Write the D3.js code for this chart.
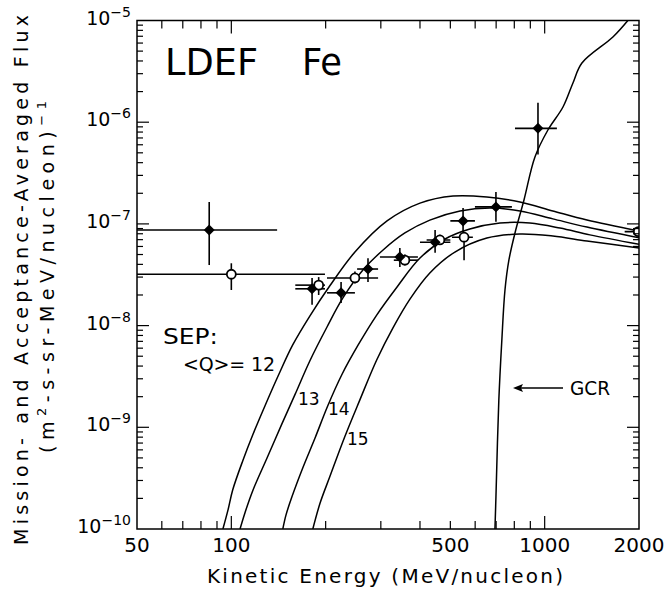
<!DOCTYPE html>
<html>
<head>
<meta charset="utf-8">
<script src="https://cdn.jsdelivr.net/npm/d3@7"></script>
<style>
body { margin: 0; background: #fff; }
svg text { font-family: "DejaVu Sans", sans-serif; fill: #000; }
</style>
</head>
<body>
<script>

// SEP model curves, [energy MeV/nucleon, flux]
var sepQ12 = [[94,1e-10],[97.6,1.54e-10],[101,2.42e-10],[109,4.77e-10],[117,8.4e-10],[128,1.62e-9],[141,3.19e-9],[157,6.45e-9],[178,1.24e-8],[206,2.45e-8],[248,5.29e-8],[314,1.07e-7],[400,1.6e-7],[510,1.88e-7],[654,1.84e-7],[834,1.64e-7],[1062,1.34e-7],[1364,1.09e-7],[2000,8.5e-8]];
var sepQ13 = [[106.6,1e-10],[110.5,1.44e-10],[117.3,2.42e-10],[130,4.99e-10],[145,1.08e-9],[160,2.13e-9],[178,4.49e-9],[202,9.69e-9],[227,1.87e-8],[263,3.52e-8],[305,5.54e-8],[358,8.14e-8],[430,1.09e-7],[537,1.34e-7],[669,1.43e-7],[834,1.34e-7],[1062,1.12e-7],[1364,9.3e-8],[2000,7.3e-8]];
var sepQ14 = [[146,1e-10],[149.4,1.37e-10],[156,2.06e-10],[169,3.98e-10],[185,7.85e-10],[203,1.62e-9],[225,3.27e-9],[254,6.45e-9],[291,1.27e-8],[338,2.4e-8],[400,4.62e-8],[481,7.1e-8],[577,8.9e-8],[720,1.02e-7],[897,1.02e-7],[1119,9.1e-8],[1394,7.8e-8],[2000,6.3e-8]];
var sepQ15 = [[182,1e-10],[192,1.8e-10],[206,3.24e-10],[230,8.03e-10],[257,1.85e-9],[291,4.59e-9],[328,9.5e-9],[372,1.83e-8],[430,3.29e-8],[517,5.29e-8],[654,7.26e-8],[834,7.96e-8],[1062,7.6e-8],[1364,6.79e-8],[2000,5.79e-8]];
var sepCurves = [sepQ12, sepQ13, sepQ14, sepQ15];

// galactic cosmic ray curve
var gcrCurve = [[694,1e-10],[699,2.06e-10],[714,1.85e-9],[730,7.22e-9],[747,2.24e-8],[769,4.42e-8],[804,8.14e-8],[859,1.72e-7],[931,4.55e-7],[1024,8.38e-7],[1144,1.41e-6],[1231,2.43e-6],[1315,3.82e-6],[1651,6.88e-6],[1843,1e-5]];

// LDEF points: [E, flux, Elow, Ehigh, fluxLow, fluxHigh]
var filledPts = [
    [85, 8.7e-8, 50, 140, 3.94e-8, 1.64e-7],
    [181, 2.3e-8, 160, 199, 1.6e-8, 2.94e-8],
    [224, 2.1e-8, 202, 248, 1.67e-8, 2.69e-8],
    [273, 3.6e-8, 252, 294, 2.69e-8, 4.6e-8],
    [345, 4.73e-8, 298, 394, 3.77e-8, 5.8e-8],
    [447, 6.6e-8, 400, 500, 5.2e-8, 8.7e-8],
    [549, 1.07e-7, 500, 599, 8.3e-8, 1.43e-7],
    [699, 1.47e-7, 599, 786, 1.05e-7, 2.06e-7],
    [952, 8.7e-7, 804, 1094, 4.8e-7, 1.55e-6]
];
var openPts = [
    [100, 3.2e-8, 50, 199, 2.24e-8, 4.1e-8],
    [190, 2.5e-8, 160, 199, 2.0e-8, 3.0e-8],
    [248, 2.94e-8, 202, 294, 2.6e-8, 3.4e-8],
    [358, 4.4e-8, 330, 394, 3.9e-8, 5.0e-8],
    [463, 6.95e-8, 420, 500, 6.2e-8, 7.8e-8],
    [553, 7.4e-8, 506, 590, 4.4e-8, 8.3e-8],
    [1990, 8.4e-8, 1800, 2000, 8.0e-8, 8.8e-8]
];

var xTickLabels = [50, 100, 500, 1000, 2000];
var yTickExps = [-10, -9, -8, -7, -6, -5];

var W = 669, H = 591;
var plotLeft = 137, plotRight = 639, plotTop = 20.5, plotBottom = 529;

var x = d3.scaleLog().domain([50, 2000]).range([plotLeft, plotRight]);
var y = d3.scaleLog().domain([1e-10, 1e-5]).range([plotBottom, plotTop]);

var svg = d3.select("body").append("svg")
    .attr("width", W)
    .attr("height", H);

svg.append("clipPath").attr("id", "plotclip")
    .append("rect")
    .attr("x", plotLeft).attr("y", plotTop)
    .attr("width", plotRight - plotLeft).attr("height", plotBottom - plotTop);

var plot = svg.append("g").attr("clip-path", "url(#plotclip)");

var line = d3.line()
    .x(function(d){ return x(d[0]); })
    .y(function(d){ return y(d[1]); })
    .curve(d3.curveCatmullRom.alpha(0.5));

sepCurves.forEach(function(c){
    plot.append("path")
        .attr("d", line(c))
        .attr("fill", "none")
        .attr("stroke", "#000")
        .attr("stroke-width", 1.5);
});

plot.append("path")
    .attr("d", line(gcrCurve))
    .attr("fill", "none")
    .attr("stroke", "#000")
    .attr("stroke-width", 1.5);

// error bars
function errorBars(pts){
    pts.forEach(function(p){
        plot.append("line")
            .attr("x1", x(p[2])).attr("x2", x(p[3]))
            .attr("y1", y(p[1])).attr("y2", y(p[1]))
            .attr("stroke", "#000").attr("stroke-width", 1.6);
        plot.append("line")
            .attr("x1", x(p[0])).attr("x2", x(p[0]))
            .attr("y1", y(p[4])).attr("y2", y(p[5]))
            .attr("stroke", "#000").attr("stroke-width", 1.6);
    });
}
errorBars(openPts);
errorBars(filledPts);

plot.selectAll("circle.open").data(openPts).enter()
    .append("circle")
    .attr("class", "open")
    .attr("cx", function(d){ return x(d[0]); })
    .attr("cy", function(d){ return y(d[1]); })
    .attr("r", 4.5)
    .attr("fill", "#fff")
    .attr("stroke", "#000")
    .attr("stroke-width", 1.8);

var diamond = d3.symbol().type(d3.symbolSquare).size(60);
plot.selectAll("path.filled").data(filledPts).enter()
    .append("path")
    .attr("class", "filled")
    .attr("d", diamond)
    .attr("transform", function(d){ return "translate(" + x(d[0]) + "," + y(d[1]) + ") rotate(45)"; })
    .attr("fill", "#000");

// frame
svg.append("rect")
    .attr("x", plotLeft).attr("y", plotTop)
    .attr("width", plotRight - plotLeft).attr("height", plotBottom - plotTop)
    .attr("fill", "none")
    .attr("stroke", "#000")
    .attr("stroke-width", 1.5);

// ticks
var ticks = svg.append("g").attr("stroke", "#000").attr("stroke-width", 1.2);
var xTicks = [];
[10, 100, 1000].forEach(function(dec){
    for (var k = 1; k <= 9; k++){
        var v = k * dec;
        if (v > 50 && v < 2000) xTicks.push(v);
    }
});
xTicks.forEach(function(v){
    var major = (v === 100 || v === 1000);
    var len = major ? 13 : 8;
    ticks.append("line").attr("x1", x(v)).attr("x2", x(v)).attr("y1", plotBottom).attr("y2", plotBottom - len);
    ticks.append("line").attr("x1", x(v)).attr("x2", x(v)).attr("y1", plotTop).attr("y2", plotTop + len);
});
var yTicks = [];
for (var e = -10; e < -5; e++){
    for (var k = 1; k <= 9; k++){
        var v = k * Math.pow(10, e);
        if (k > 1 || e > -10) yTicks.push({v: v, major: k === 1});
    }
}
yTicks.forEach(function(t){
    var len = t.major ? 12 : 6;
    ticks.append("line").attr("x1", plotLeft).attr("x2", plotLeft + len).attr("y1", y(t.v)).attr("y2", y(t.v));
    ticks.append("line").attr("x1", plotRight).attr("x2", plotRight - len).attr("y1", y(t.v)).attr("y2", y(t.v));
});

// tick labels
svg.selectAll("text.xlab").data(xTickLabels).enter()
    .append("text")
    .attr("class", "xlab")
    .attr("x", function(d){ return x(d); })
    .attr("y", 552)
    .attr("text-anchor", "middle")
    .style("font-size", "20px")
    .text(function(d){ return d; });

var ylab = svg.selectAll("text.ylab").data(yTickExps).enter()
    .append("text")
    .attr("class", "ylab")
    .attr("x", 131)
    .attr("y", function(d){ return y(Math.pow(10, d)) + 4; })
    .attr("text-anchor", "end")
    .style("font-size", "19px");
ylab.append("tspan").text("10");
ylab.append("tspan")
    .attr("dy", -8)
    .style("font-size", "14px")
    .text(function(d){ return "\u2212" + Math.abs(d); });

// axis titles
svg.append("text")
    .attr("x", 385).attr("y", 583)
    .attr("text-anchor", "middle")
    .attr("textLength", 356)
    .attr("lengthAdjust", "spacing")
    .style("font-size", "20px")
    .text("Kinetic Energy (MeV/nucleon)");

svg.append("text")
    .attr("transform", "translate(28,280) rotate(-90)")
    .attr("text-anchor", "middle")
    .attr("textLength", 530)
    .attr("lengthAdjust", "spacing")
    .style("font-size", "19px")
    .text("Mission- and Acceptance-Averaged  Flux");

var yt2 = svg.append("text")
    .attr("transform", "translate(54,277) rotate(-90)")
    .attr("text-anchor", "middle")
    .attr("textLength", 352)
    .attr("lengthAdjust", "spacing")
    .style("font-size", "19px");
yt2.append("tspan").text("(m");
yt2.append("tspan").attr("dy", -8).style("font-size", "13px").text("2");
yt2.append("tspan").attr("dy", 8).text("-s-sr-MeV/nucleon)");
yt2.append("tspan").attr("dy", -8).style("font-size", "13px").text("\u22121");

// annotations
svg.append("text").attr("x", 165).attr("y", 75)
    .attr("textLength", 93).attr("lengthAdjust", "spacingAndGlyphs")
    .style("font-size", "38px").text("LDEF");
svg.append("text").attr("x", 302).attr("y", 75)
    .attr("textLength", 40).attr("lengthAdjust", "spacingAndGlyphs")
    .style("font-size", "38px").text("Fe");

svg.append("text").attr("x", 163).attr("y", 344)
    .attr("textLength", 55).attr("lengthAdjust", "spacingAndGlyphs")
    .style("font-size", "22px").text("SEP:");
svg.append("text").attr("x", 183).attr("y", 371)
    .attr("textLength", 92).attr("lengthAdjust", "spacing")
    .style("font-size", "19px").text("<Q>= 12");

svg.append("text").attr("x", 298).attr("y", 405).style("font-size", "17px").text("13");
svg.append("text").attr("x", 328).attr("y", 415).style("font-size", "17px").text("14");
svg.append("text").attr("x", 347).attr("y", 445).style("font-size", "17px").text("15");

svg.append("text").attr("x", 570).attr("y", 395)
    .attr("textLength", 40).attr("lengthAdjust", "spacingAndGlyphs")
    .style("font-size", "20px").text("GCR");

svg.append("line")
    .attr("x1", 516).attr("x2", 563).attr("y1", 388).attr("y2", 388)
    .attr("stroke", "#000").attr("stroke-width", 1.5);
svg.append("path")
    .attr("d", "M513,388 L523,384 L521,388 L523,392 Z")
    .attr("fill", "#000");

</script>
</body>
</html>
